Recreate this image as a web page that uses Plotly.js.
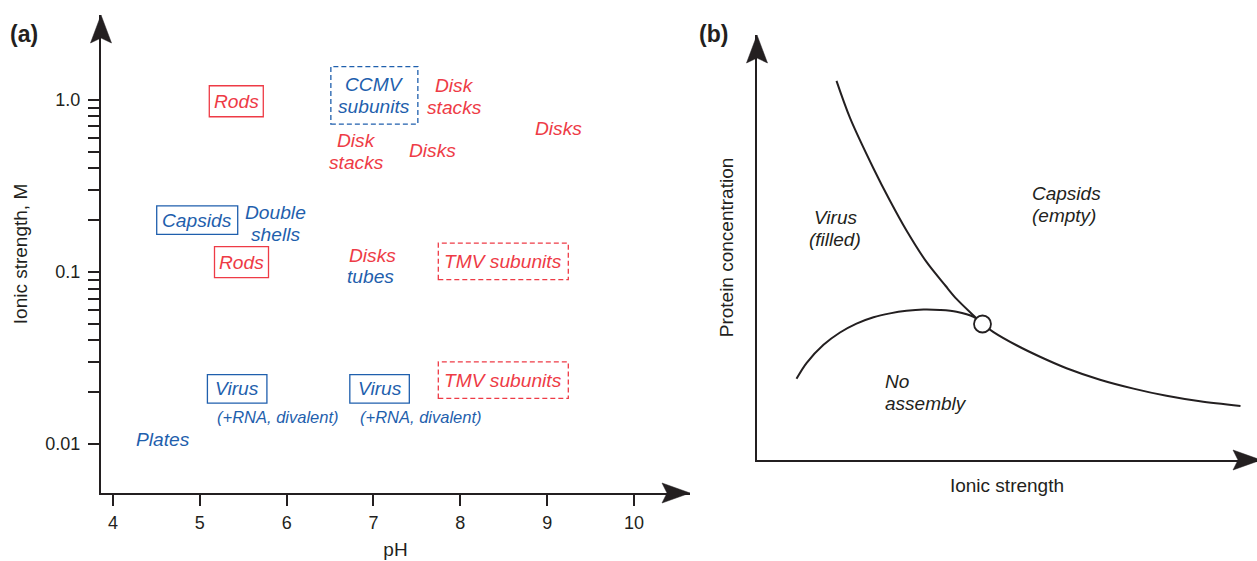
<!DOCTYPE html>
<html>
<head>
<meta charset="utf-8">
<script src="https://cdn.plot.ly/plotly-3.0.1.min.js"></script>
<style>
  html, body { margin: 0; padding: 0; background: #ffffff; }
  #chart { width: 1257px; height: 561px; }
</style>
</head>
<body>
<div id="chart"></div>
<script>
// ---------------- DATA ----------------
// Panel (a): pH vs ionic strength (log scale)
const pHTicks = [4, 5, 6, 7, 8, 9, 10];
const ionicTickVals = [0.01, 0.02, 0.03, 0.04, 0.05, 0.06, 0.07, 0.08, 0.09,
                       0.1, 0.2, 0.3, 0.4, 0.5, 0.6, 0.7, 0.8, 0.9, 1.0];
const ionicTickText = ['0.01', '', '', '', '', '', '', '', '',
                       '0.1', '', '', '', '', '', '', '', '', '1.0'];

const labelText = ['Rods', 'CCMV\nsubunits', 'Disk\nstacks', 'Disk\nstacks', 'Disks', 'Disks',
                   'Capsids', 'Double\nshells', 'Rods', 'Disks', 'tubes',
                   'TMV subunits', 'TMV subunits', 'Virus', '(+RNA, divalent)',
                   'Virus', '(+RNA, divalent)', 'Plates'];
const labelSystem = ['TMV', 'CCMV', 'TMV', 'TMV', 'TMV', 'TMV',
                     'CCMV', 'CCMV', 'TMV', 'TMV', 'CCMV',
                     'TMV', 'TMV', 'CCMV', 'CCMV',
                     'CCMV', 'CCMV', 'CCMV'];
const labelKind = ['boxed', 'subunits', 'phase', 'phase', 'phase', 'phase',
                   'boxed', 'phase', 'boxed', 'phase', 'phase',
                   'subunits', 'subunits', 'boxed', 'note',
                   'boxed', 'note', 'phase'];
const labelPH = [5.42, 7.01, 7.93, 6.81, 7.685, 9.13,
                 4.97, 5.87, 5.48, 6.99, 6.97,
                 8.495, 8.495, 5.43, 5.90,
                 7.07, 7.55, 4.58];
const labelIonic = [0.98, 1.06, 1.05, 0.50, 0.51, 0.68,
                    0.20, 0.192, 0.114, 0.125, 0.094,
                    0.115, 0.0235, 0.0209, 0.0143,
                    0.0209, 0.0143, 0.0107];

// Panel (b): schematic phase diagram (arbitrary units)
const virusBoundaryX = [1.59, 1.86, 2.33, 2.66, 2.99, 3.39, 3.77, 3.99, 4.33, 4.51,
                        4.73, 5.19, 5.66, 6.19, 6.86, 7.53, 8.19, 8.86, 9.67];
const virusBoundaryY = [8.92, 8.05, 6.86, 6.10, 5.40, 4.66, 4.10, 3.79, 3.40, 3.20,
                        3.01, 2.70, 2.43, 2.16, 1.89, 1.68, 1.51, 1.38, 1.27];
const noAssemblyBoundaryX = [0.79, 0.99, 1.33, 1.66, 1.99, 2.33, 2.66, 2.99, 3.33, 3.66, 3.99, 4.33, 4.51];
const noAssemblyBoundaryY = [1.91, 2.28, 2.71, 3.00, 3.21, 3.36, 3.45, 3.51, 3.54, 3.53, 3.49, 3.37, 3.20];
const triplePointX = [4.51];
const triplePointY = [3.20];
const regionText = ['Virus\n(filled)', 'Capsids\n(empty)', 'No\nassembly'];
const regionX = [1.56, 5.46, 2.51];
const regionY = [5.44, 6.01, 1.59];

// ---------------- STYLE ----------------
const DARK = '#231f20';
const SYSTEM_COLOR = { TMV: '#ee3b46', CCMV: '#1f5fad' };
const FONT = 'Liberation Sans, Arial, Helvetica, sans-serif';
const W = 1257, H = 561;
const LINE_GAP = 22;
const BOX_SIZE = { 'Rods': [54, 31], 'Capsids': [81, 28.5], 'Virus': [59.5, 28.5],
                   'CCMV\nsubunits': [87, 57.5], 'TMV subunits': [130, 36.5] };
const regionAlign = ['center', 'left', 'left'];
const Y_RANGE_LOG = [-2.284, 0.492];

const annotations = [];
const shapes = [];

function addLines(text, x, y, xref, yref, font, xanchor) {
  const lines = text.split('\n');
  const n = lines.length;
  lines.forEach((ln, j) => {
    annotations.push({
      text: ln, x: x, y: y, xref: xref, yref: yref,
      showarrow: false, xanchor: xanchor, yanchor: 'middle',
      yshift: ((n - 1) / 2 - j) * LINE_GAP,
      font: font
    });
  });
}

// Panel (a) labels
labelText.forEach((t, i) => {
  const color = SYSTEM_COLOR[labelSystem[i]];
  const size = labelKind[i] === 'note' ? 16.5 : 19.2;
  const logY = Math.log10(labelIonic[i]);
  addLines(t, labelPH[i], logY, 'x', 'y',
           { family: FONT, size: size, color: color, style: 'italic' }, 'center');
  if (labelKind[i] === 'boxed' || labelKind[i] === 'subunits') {
    const sz = BOX_SIZE[t];
    // frame drawn on a linear overlay axis that carries log10(ionic strength)
    shapes.push({
      type: 'rect', xref: 'x', yref: 'y3',
      xsizemode: 'pixel', ysizemode: 'pixel',
      xanchor: labelPH[i], yanchor: logY,
      x0: -sz[0] / 2, x1: sz[0] / 2, y0: -sz[1] / 2, y1: sz[1] / 2,
      line: { color: color, width: 1.3, dash: labelKind[i] === 'subunits' ? '5px,3px' : 'solid' },
      fillcolor: 'rgba(0,0,0,0)'
    });
  }
});

// Panel (b) labels
regionText.forEach((t, i) => {
  addLines(t, regionX[i], regionY[i], 'x2', 'y2',
           { family: FONT, size: 19, color: DARK, style: 'italic' }, regionAlign[i]);
});

// Panel tags
annotations.push({ text: '(a)', xref: 'paper', yref: 'paper', x: 24 / W, y: 1 - 34 / H,
  showarrow: false, xanchor: 'center', yanchor: 'middle',
  font: { family: FONT, size: 23, color: DARK, weight: 'bold' } });
annotations.push({ text: '(b)', xref: 'paper', yref: 'paper', x: 713 / W, y: 1 - 34 / H,
  showarrow: false, xanchor: 'center', yanchor: 'middle',
  font: { family: FONT, size: 23, color: DARK, weight: 'bold' } });

// Axis arrowheads
function arrowUp(xr, yr) {
  return { type: 'path', xref: xr, yref: yr, xsizemode: 'pixel', ysizemode: 'pixel',
    xanchor: 0, yanchor: 1, path: 'M0,0 L-10.5,-28 L0,-23 L10.5,-28 Z',
    fillcolor: DARK, line: { color: DARK, width: 0.5 } };
}
function arrowRight(xr, yr, tip) {
  return { type: 'path', xref: xr, yref: yr, xsizemode: 'pixel', ysizemode: 'pixel',
    xanchor: 1, yanchor: 0,
    path: `M${tip},0 L${tip - 28},10 L${tip - 23},0 L${tip - 28},-10 Z`,
    fillcolor: DARK, line: { color: DARK, width: 0.5 } };
}
shapes.push(arrowUp('x domain', 'y domain'));
shapes.push(arrowRight('x domain', 'y domain', 0));
shapes.push(arrowUp('x2 domain', 'y2 domain'));
shapes.push(arrowRight('x2 domain', 'y2 domain', 4));

const axisCommon = {
  showgrid: false, zeroline: false, showline: true,
  linecolor: DARK, linewidth: 2, tickcolor: DARK, tickwidth: 2,
  tickfont: { family: FONT, size: 18, color: DARK },
  fixedrange: true
};

const traces = [
  { type: 'scatter', mode: 'markers', x: labelPH, y: labelIonic, xaxis: 'x', yaxis: 'y',
    marker: { opacity: 0, size: 1 }, hoverinfo: 'skip', showlegend: false },
  { type: 'scatter', mode: 'markers', x: labelPH, y: labelIonic.map(v => Math.log10(v)), xaxis: 'x', yaxis: 'y3',
    marker: { opacity: 0, size: 1 }, hoverinfo: 'skip', showlegend: false },
  { type: 'scatter', mode: 'lines', x: virusBoundaryX, y: virusBoundaryY, xaxis: 'x2', yaxis: 'y2',
    line: { color: DARK, width: 2, shape: 'spline', smoothing: 0.9 }, hoverinfo: 'skip', showlegend: false },
  { type: 'scatter', mode: 'lines', x: noAssemblyBoundaryX, y: noAssemblyBoundaryY, xaxis: 'x2', yaxis: 'y2',
    line: { color: DARK, width: 2, shape: 'spline', smoothing: 0.9 }, hoverinfo: 'skip', showlegend: false },
  { type: 'scatter', mode: 'markers', x: triplePointX, y: triplePointY, xaxis: 'x2', yaxis: 'y2',
    marker: { size: 17, color: '#ffffff', line: { color: DARK, width: 1.8 } }, hoverinfo: 'skip', showlegend: false }
];

const layout = {
  width: W, height: H,
  margin: { l: 0, r: 0, t: 0, b: 0 },
  paper_bgcolor: '#ffffff', plot_bgcolor: 'rgba(0,0,0,0)',
  showlegend: false,
  xaxis: Object.assign({}, axisCommon, {
    domain: [101 / W, 690 / W], range: [3.862, 10.645], anchor: 'y',
    tickmode: 'array', tickvals: pHTicks, ticktext: pHTicks.map(String),
    ticks: 'outside', ticklen: 11, ticklabelstandoff: 1,
    title: { text: 'pH', font: { family: FONT, size: 19, color: DARK }, standoff: 11 }
  }),
  yaxis: Object.assign({}, axisCommon, {
    type: 'log', domain: [1 - 493 / H, 1 - 15 / H], range: Y_RANGE_LOG, anchor: 'x',
    tickmode: 'array', tickvals: ionicTickVals, ticktext: ionicTickText,
    ticks: 'outside', ticklen: 11, ticklabelstandoff: 4,
    title: { text: 'Ionic strength, M', font: { family: FONT, size: 19, color: DARK }, standoff: 13 }
  }),
  yaxis3: {
    overlaying: 'y', anchor: 'x', range: Y_RANGE_LOG, visible: false,
    showgrid: false, zeroline: false, fixedrange: true
  },
  xaxis2: Object.assign({}, axisCommon, {
    domain: [757 / W, 1], range: [0, 10], anchor: 'y2',
    showticklabels: false, ticks: '',
    title: { text: 'Ionic strength', font: { family: FONT, size: 19, color: DARK }, standoff: 18 }
  }),
  yaxis2: Object.assign({}, axisCommon, {
    domain: [1 - 460 / H, 1 - 35 / H], range: [0, 10], anchor: 'x2',
    showticklabels: false, ticks: '',
    title: { text: 'Protein concentration', font: { family: FONT, size: 19, color: DARK }, standoff: 16 }
  }),
  annotations: annotations,
  shapes: shapes
};

Plotly.newPlot('chart', traces, layout, { displayModeBar: false, staticPlot: true });
</script>
</body>
</html>
